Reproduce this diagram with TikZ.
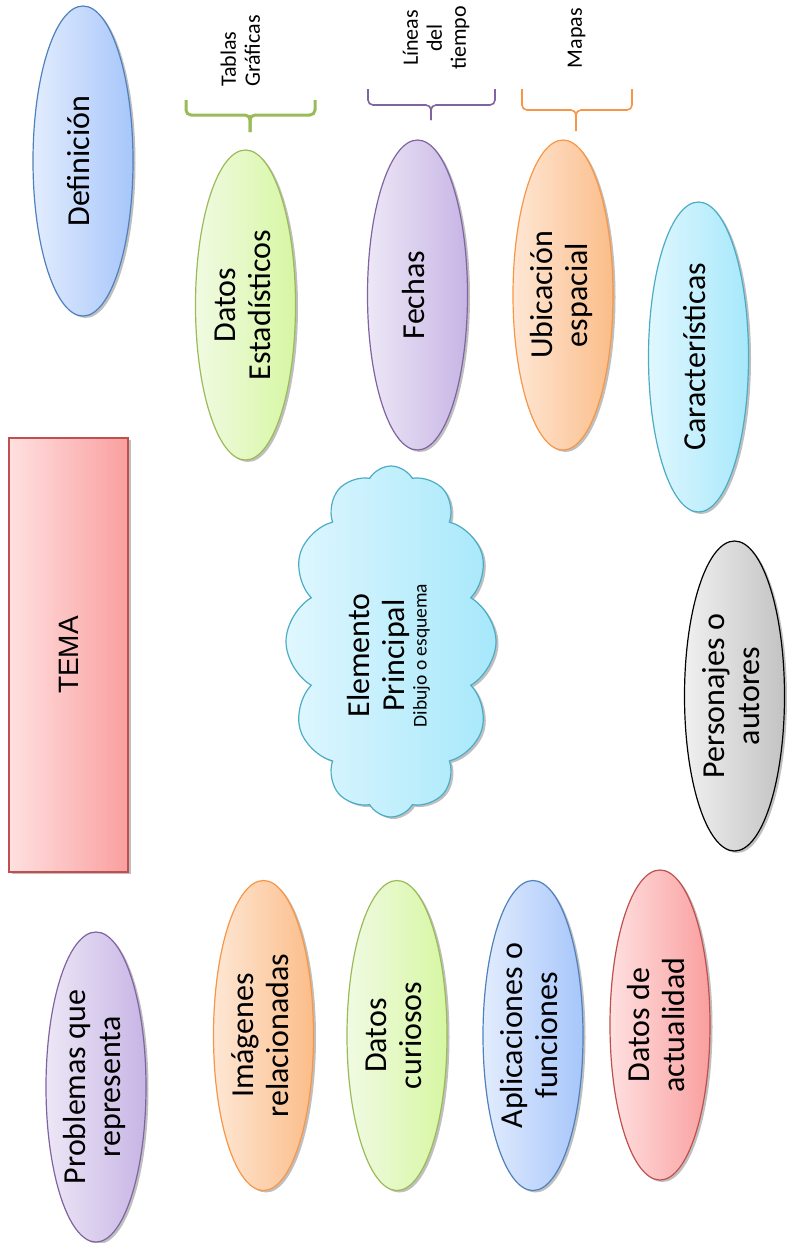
\documentclass[tikz,border=0pt]{standalone}
\usepackage{fontspec}
\usepackage{graphicx}
\usepackage[dvipsnames]{xcolor}
\setmainfont{Carlito}
\newfontfamily\temafont{Liberation Sans}
\usetikzlibrary{shapes.geometric,shapes.symbols,shadows}

\definecolor{azulA}{HTML}{E2ECFD}
\definecolor{azulB}{HTML}{A7C6FB}
\definecolor{azulC}{HTML}{4F81BD}
\definecolor{verdeA}{HTML}{F1FAE3}
\definecolor{verdeB}{HTML}{D6F7A2}
\definecolor{verdeC}{HTML}{9BBB59}
\definecolor{moradoA}{HTML}{EDE7F6}
\definecolor{moradoB}{HTML}{C7B5E5}
\definecolor{moradoC}{HTML}{8064A2}
\definecolor{naranjaA}{HTML}{FEE7D5}
\definecolor{naranjaB}{HTML}{FBBD89}
\definecolor{naranjaC}{HTML}{F79646}
\definecolor{cianA}{HTML}{E0F7FE}
\definecolor{cianB}{HTML}{A6E8FB}
\definecolor{cianC}{HTML}{4BACC6}
\definecolor{rojoA}{HTML}{FFE0E0}
\definecolor{rojoB}{HTML}{FA9F9F}
\definecolor{rojoC}{HTML}{C0504D}
\definecolor{grisA}{HTML}{F0F0F0}
\definecolor{grisB}{HTML}{C3C3C3}

\newcommand{\vtexto}[1]{\rotatebox{90}{\begin{tabular}{@{}c@{}}#1\end{tabular}}}
\newcommand{\vtextoL}[1]{\rotatebox{90}{\begin{tabular}{@{}l@{}}#1\end{tabular}}}

\begin{document}
\begin{tikzpicture}[x=1pt,y=-1pt,
  sombra/.style={drop shadow={shadow xshift=2.5pt,shadow yshift=-2pt,opacity=.25,fill=black}},
  burbuja/.style={ellipse,line width=1.2pt,minimum width=100pt,minimum height=310pt,
    inner sep=0pt,font=\fontsize{32}{35}\selectfont,sombra},
  azul/.style={left color=azulA,right color=azulB,draw=azulC},
  verde/.style={left color=verdeA,right color=verdeB,draw=verdeC},
  morado/.style={left color=moradoA,right color=moradoB,draw=moradoC},
  naranja/.style={left color=naranjaA,right color=naranjaB,draw=naranjaC},
  cian/.style={left color=cianA,right color=cianB,draw=cianC},
  rojo/.style={left color=rojoA,right color=rojoB,draw=rojoC},
  gris/.style={left color=grisA,right color=grisB,draw=black},
  etiqueta/.style={inner sep=0pt,font=\fontsize{22}{24}\selectfont},
  llave/.style={line width=#1,rounded corners=5pt}]

\useasboundingbox (0,0) rectangle (787,1243);

\coordinate (def) at (83,161);
\coordinate (estad) at (245.5,305);
\coordinate (fech) at (417.5,295);
\coordinate (ubic) at (563,295);
\coordinate (caract) at (698.5,357);
\coordinate (pers) at (734.5,696);
\coordinate (probl) at (96,1087);
\coordinate (imag) at (263.5,1035.5);
\coordinate (curio) at (397,1035.5);
\coordinate (aplic) at (533,1035.5);
\coordinate (actual) at (660,1025);

% Llaves de arriba
\coordinate (g1) at (186,100);
\coordinate (g2) at (315,100);
\coordinate (g0) at (250,115);
\coordinate (gp) at (250,132);
\coordinate (m1) at (368,89);
\coordinate (m2) at (495,89);
\coordinate (m0) at (431,105);
\coordinate (mp) at (431,120);
\coordinate (n1) at (522,89);
\coordinate (n2) at (632,89);
\coordinate (n0) at (576,110);
\coordinate (np) at (576,131);

\draw[llave=3pt, verdeC] (g1) |- (g0) -- (gp);
\draw[llave=3pt, verdeC] (g2) |- (g0) -- (gp);
\draw[llave=1.6pt, moradoC] (m1) |- (m0) -- (mp);
\draw[llave=1.6pt, moradoC] (m2) |- (m0) -- (mp);
\draw[llave=1.6pt, naranjaC] (n1) |- (n0) -- (np);
\draw[llave=1.6pt, naranjaC] (n2) |- (n0) -- (np);

\node (tablas) at (243,87) [etiqueta, anchor=south] {\vtextoL{Tablas\\Gráficas}};
\node (lineas) at (437,38) [etiqueta] {\vtexto{Líneas\\del\\tiempo}};
\node (mapas) at (577,38) [etiqueta] {\vtexto{Mapas}};

% Elipses de arriba
\node (definicion) at (def) [burbuja, azul] {\vtexto{Definición}};
\node (datos) at (estad) [burbuja, verde] {\vtexto{Datos\\Estadísticos}};
\node (fechas) at (fech) [burbuja, morado] {\vtexto{Fechas}};
\node (ubicacion) at (ubic) [burbuja, naranja] {\vtexto{Ubicación\\espacial}};
\node (caracteristicas) at (caract) [burbuja, cian] {\vtexto{Características}};

% Centro
\node (tema) at (68.5,655) [rectangle, rojo, line width=1.2pt, sombra,
  minimum width=119pt, minimum height=434pt, inner sep=0pt,
  font=\temafont\fontsize{28}{32}\selectfont] {\rotatebox{90}{TEMA}};
\node (elemento) at (391,641.5) [cloud, cloud puffs=12, cloud puff arc=120,
  cloud ignores aspect, minimum width=210pt, minimum height=351pt, inner sep=0pt,
  cian, line width=1.2pt, sombra, font=\fontsize{32}{35}\selectfont]
  {\rotatebox{90}{\begin{tabular}{@{}c@{\hspace{28pt}}}Elemento\\Principal\\[-13pt]
  {\fontsize{19.5}{22}\selectfont Dibujo o esquema}\end{tabular}}};
\node (personajes) at (pers) [burbuja, gris] {\vtexto{Personajes o\\autores}};

% Elipses de abajo
\node (problemas) at (probl) [burbuja, morado] {\vtexto{Problemas que\\representa}};
\node (imagenes) at (imag) [burbuja, naranja] {\vtexto{Imágenes\\relacionadas}};
\node (curiosos) at (curio) [burbuja, verde] {\vtexto{Datos\\curiosos}};
\node (aplicaciones) at (aplic) [burbuja, azul] {\vtexto{Aplicaciones o\\funciones}};
\node (actualidad) at (actual) [burbuja, rojo] {\vtexto{Datos de\\actualidad}};
\end{tikzpicture}
\end{document}
